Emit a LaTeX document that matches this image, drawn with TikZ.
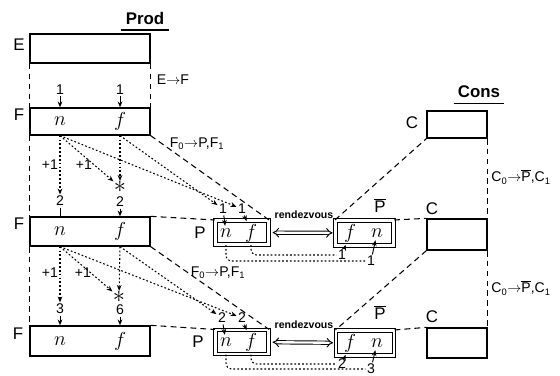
\documentclass[tikz,border=0pt]{standalone}
\usepackage{fontspec}
\setmainfont{Liberation Sans}
\usetikzlibrary{arrows.meta}

\begin{document}
\begin{tikzpicture}[x=0.03cm,y=-0.03cm,>={Stealth[length=5pt,width=4pt]},thick,
  box/.style={draw,rectangle,line width=1.1pt,inner sep=0pt},
  pbox/.style={draw,rectangle,double,double distance=2pt,line width=0.9pt,inner sep=0pt},
  lbl/.style={font=\Large},
  var/.style={font=\LARGE,inner sep=2pt},
  num/.style={font=\large,inner sep=1pt},
  dsh/.style={dash pattern=on 5pt off 3.5pt,line width=0.9pt},
  dot/.style={dash pattern=on 1.5pt off 1.8pt,line width=0.9pt}]
\useasboundingbox (0,0) rectangle (560,376);

% titles
\node[font=\Large\bfseries] (prod) at (145,18) {Prod};
\draw[line width=1.5pt] ([yshift=-1pt]prod.south west) -- ([yshift=-1pt]prod.south east);
\node[font=\Large\bfseries] (cons) at (479,92) {Cons};
\draw[line width=1.5pt] ([yshift=-1pt]cons.south west) -- ([yshift=-1pt]cons.south east);

% producer states
\node[box,minimum width=3.6cm,minimum height=0.87cm] (E) at (90,48.5) {};
\node[box,minimum width=3.6cm,minimum height=0.81cm] (F1) at (90,121.5) {};
\node[box,minimum width=3.6cm,minimum height=0.87cm] (F2) at (90,231.5) {};
\node[box,minimum width=3.6cm,minimum height=0.9cm] (F3) at (90,341) {};
\node[lbl] (Elbl) at (19,45) {E};
\node[lbl] (F1lbl) at (19,115) {F};
\node[lbl] (F2lbl) at (19,224) {F};
\node[lbl] (F3lbl) at (18,334) {F};
\node[var] (F1n) at (60,121) {$n$};
\node[var] (F1f) at (120,121) {$f$};
\node[var] (F2n) at (60,231) {$n$};
\node[var] (F2f) at (120,231) {$f$};
\node[var] (F3n) at (60,341) {$n$};
\node[var] (F3f) at (120,341) {$f$};

% rendezvous pairs
\node[pbox,minimum width=1.59cm,minimum height=0.72cm] (P1) at (242,232.5) {};
\node[pbox,minimum width=1.74cm,minimum height=0.75cm] (Pb1) at (364.5,233) {};
\node[pbox,minimum width=1.59cm,minimum height=0.72cm] (P2) at (242,342) {};
\node[pbox,minimum width=1.74cm,minimum height=0.75cm] (Pb2) at (365,343) {};
\node[lbl] (P1lbl) at (200,233) {P};
\node[lbl] (P2lbl) at (198,342) {P};
\node[lbl] (Pb1lbl) at (380,206) {$\overline{\mbox{P}}$};
\node[lbl] (Pb2lbl) at (380,313) {$\overline{\mbox{P}}$};
\node[var] (P1n) at (226,233) {$n$};
\node[var] (P1f) at (251,233) {$f$};
\node[var] (P2n) at (226,342) {$n$};
\node[var] (P2f) at (251,342) {$f$};
\node[var] (Pb1f) at (350,233) {$f$};
\node[var] (Pb1n) at (377,233) {$n$};
\node[var] (Pb2f) at (350,343) {$f$};
\node[var] (Pb2n) at (377,343) {$n$};
\node[font=\small\bfseries] (rv1) at (304,215) {rendezvous};
\node[font=\small\bfseries] (rv2) at (304,325) {rendezvous};
\draw[double,double distance=2pt,line width=0.8pt,{Implies}-{Implies},shorten <=3pt,shorten >=2pt] (P1) -- (Pb1);
\draw[double,double distance=2pt,line width=0.8pt,{Implies}-{Implies},shorten <=3pt,shorten >=2pt] (P2) -- (Pb2);

% consumer states
\node[box,minimum width=1.8cm,minimum height=0.81cm] (C1) at (457,124.5) {};
\node[box,minimum width=1.8cm,minimum height=0.93cm] (C2) at (457,234.5) {};
\node[box,minimum width=1.8cm,minimum height=0.9cm] (C3) at (457,343) {};
\node[lbl] (C1lbl) at (412,123) {C};
\node[lbl] (C2lbl) at (432,209) {C};
\node[lbl] (C3lbl) at (432,317) {C};

% transitions
\draw[dsh] (E.south west) -- (F1.north west);
\draw[dsh] (E.south east) -- (F1.north east);
\draw[dsh] (F1.south west) -- (F2.north west);
\draw[dsh] (F2.south west) -- (F3.north west);
\draw[dsh] (F1.south east) -- (P1.north east);
\draw[dsh] (F2.north east) -- (P1.north west);
\draw[dsh] (F2.south east) -- (P2.north east);
\draw[dsh] (F3.north east) -- (P2.north west);
\draw[dsh] (Pb1.north west) -- (C1.south west);
\draw[dsh] (Pb1.north east) -- (C2.north west);
\draw[dsh] (C1.south east) -- (C2.north east);
\draw[dsh] (C2.south west) -- (Pb2.north west);
\draw[dsh] (Pb2.north east) -- (C3.north west);
\draw[dsh] (C2.south east) -- (C3.north east);
\node[font=\large] (ef) at (173,80) {E${\rightarrow}$F};
\node[font=\large] (fp1) at (197,144) {F\textsubscript{0}${\rightarrow}$P,F\textsubscript{1}};
\node[font=\large] (fp2) at (218,273) {F\textsubscript{0}${\rightarrow}$P,F\textsubscript{1}};
\node[font=\large,anchor=west] (cp1) at (487,177) {C\textsubscript{0}${\rightarrow}\overline{\mbox{P}}$,C\textsubscript{1}};
\node[font=\large,anchor=west] (cp2) at (487,288) {C\textsubscript{0}${\rightarrow}\overline{\mbox{P}}$,C\textsubscript{1}};

% initial values
\node[num] (s0n) at (60,90) {1};
\node[num] (s0f) at (120,90) {1};
\draw[->] (s0n) -- (s0n |- F1.north);
\draw[->] (s0f) -- (s0f |- F1.north);

% first step
\node[num] (a1n) at (50,165) {+1};
\node[num] (a1f) at (84,165) {+1};
\node[font=\huge,inner sep=0pt] (st1) at (120,187) {$\ast$};
\node[num] (t1n) at (60,201) {2};
\node[num] (t1f) at (120,202) {2};
\draw[dot,->] (F1n |- F1.south) -- (t1n);
\draw[dot,->] (F1n |- F1.south) -- (st1);
\draw[dot,->] (F1f |- F1.south) -- (st1);
\draw (t1n) -- (t1n |- F2.north);
\draw[->] (t1f) -- (t1f |- F2.north);
\node[num] (u1n) at (223,209) {1};
\node[num] (u1f) at (242,209) {1};
\draw[dot,->] (F1n |- F1.south) -- (u1f);
\draw[dot,->] (F1f |- F1.south) -- (u1n);
\draw[->] (u1n) -- (P1n);
\draw[->] (u1f) -- (P1f);
\node[num] (v1f) at (342,255) {1};
\node[num] (v1n) at (371,261) {1};
\draw[dot,rounded corners=5pt] (P1f |- P1.south) |- (v1f);
\draw[dot,rounded corners=5pt] (P1n |- P1.south) |- (v1n);
\draw[->] (v1f) -- (Pb1f);
\draw[->] (v1n) -- (Pb1n);

% second step
\node[num] (a2n) at (50,273) {+1};
\node[num] (a2f) at (83,273) {+1};
\node[font=\huge,inner sep=0pt] (st2) at (119,297) {$\ast$};
\node[num] (t2n) at (60,309) {3};
\node[num] (t2f) at (120,310) {6};
\draw[dot,->] (F2n |- F2.south) -- (t2n);
\draw[dot,->] (F2n |- F2.south) -- (st2);
\draw[dot,->] (F2f |- F2.south) -- (st2);
\draw[->] (t2n) -- (t2n |- F3.north);
\draw[->] (t2f) -- (t2f |- F3.north);
\node[num] (u2n) at (222,318) {2};
\node[num] (u2f) at (242,318) {2};
\draw[dot,->] (F2n |- F2.south) -- (u2f);
\draw[dot,->] (F2f |- F2.south) -- (u2n);
\draw[->] (u2n) -- (P2n);
\draw[->] (u2f) -- (P2f);
\node[num] (v2f) at (342,364) {2};
\node[num] (v2n) at (371,369) {3};
\draw[dot,rounded corners=5pt] (P2f |- P2.south) |- (v2f);
\draw[dot,rounded corners=5pt] (P2n |- P2.south) |- (v2n);
\draw[->] (v2f) -- (Pb2f);
\draw[->] (v2n) -- (Pb2n);
\end{tikzpicture}
\end{document}
